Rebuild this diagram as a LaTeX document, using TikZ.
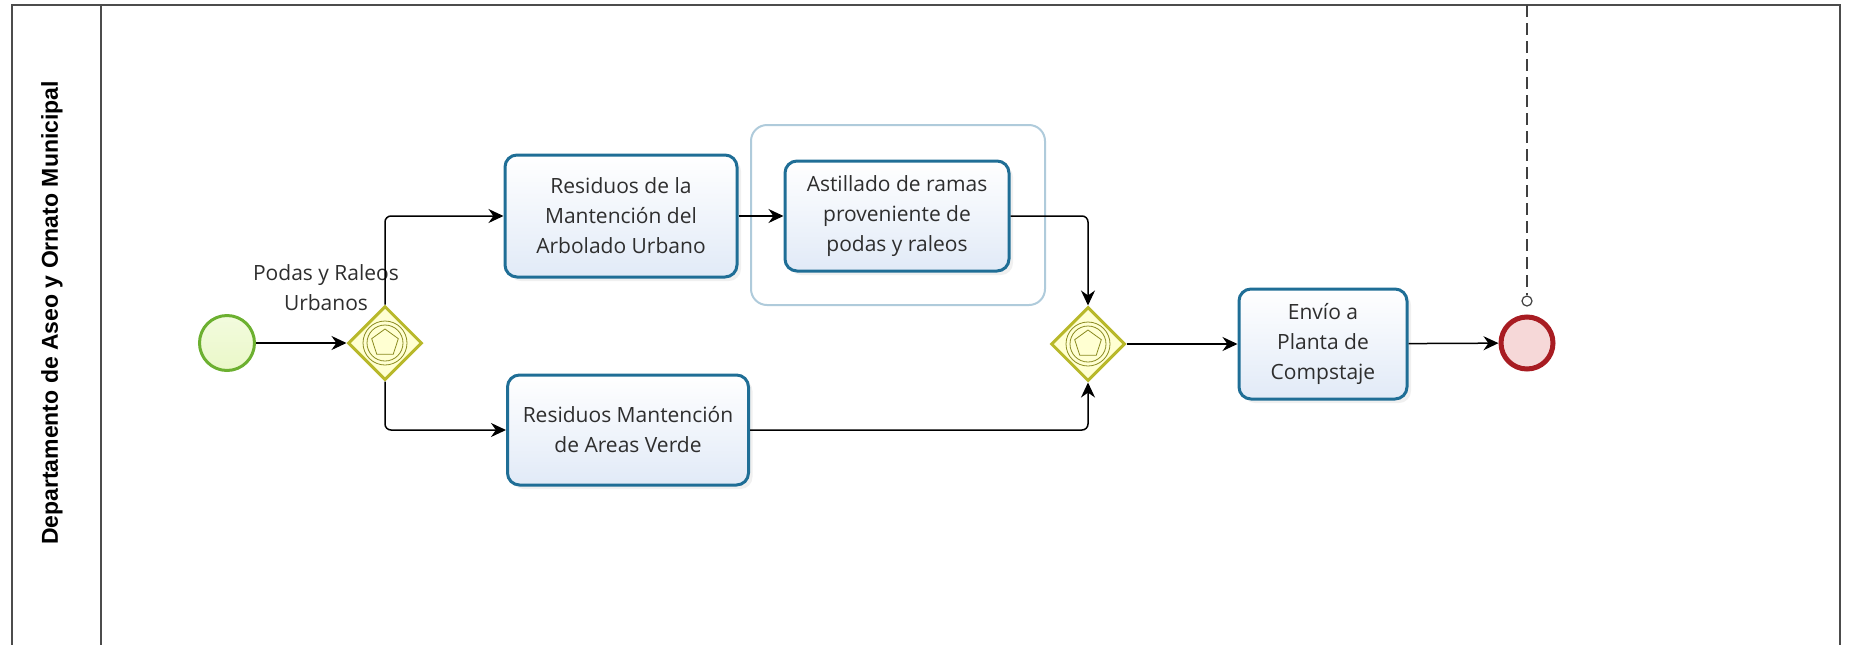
\documentclass[tikz,border=0pt]{standalone}
\usepackage{fontspec}
\setmainfont{Open Sans}
\newfontfamily\lanefont{Liberation Sans}
\usetikzlibrary{shapes.geometric,arrows.meta,shadows}
\definecolor{taskline}{HTML}{1F6E96}
\definecolor{taskfill}{HTML}{E1EAF7}
\definecolor{gateline}{HTML}{B8B82A}
\definecolor{gatefill}{HTML}{FFFFD2}
\definecolor{startline}{HTML}{6CB030}
\definecolor{startfill}{HTML}{EAF8C8}
\definecolor{endline}{HTML}{A81C22}
\definecolor{endfill}{HTML}{F6D8D8}
\definecolor{groupline}{HTML}{AFCBDB}
\definecolor{txt}{HTML}{2E2E2E}
\tikzset{
  task/.style={draw=taskline, line width=1.5pt, rounded corners=6pt, top color=white, bottom color=taskfill,
    align=center, text=txt, font=\fontsize{10.5}{15}\selectfont, inner sep=0pt,
    drop shadow={opacity=0.12, shadow xshift=2pt, shadow yshift=-2pt}},
  gate/.style={diamond, aspect=1, draw=gateline, fill=gatefill, line width=1.5pt, minimum size=37pt, inner sep=0pt},
  flow/.style={-{Stealth[length=7.5pt,width=7pt]}, line width=0.75pt, rounded corners=3pt},
}
\begin{document}
\begin{tikzpicture}[x=0.5pt, y=-0.5pt]
    \useasboundingbox (0,0) rectangle (1849,644);
    \draw [draw=black!70, line width=0.8pt] (12,5) rectangle (1840,660);
    \draw [draw=black!70, line width=0.8pt] (101,5) -- (101,660);
    \node [rotate=90, font=\lanefont\bfseries\fontsize{11.5}{13}\selectfont] (lane) at (52,313) {Departamento de Aseo y Ornato Municipal};
    % grupo
    \node [draw=groupline, line width=1pt, rounded corners=8pt, minimum width=147pt, minimum height=90pt] (grp) at (898,215) {};
    \node [circle, draw=startline, top color=startfill!60, bottom color=startfill, line width=1.5pt, minimum size=27.5pt, inner sep=0pt] (start) at (227,343) {};
    \node [gate] (g1) at (385,343) {};
    \node [task, minimum width=116pt, minimum height=61pt] (t1) at (621,216) {Residuos de la\\Mantención del\\Arbolado Urbano};
    \node [task, minimum width=112pt, minimum height=55pt] (t2) at (897,216) {Astillado de ramas\\proveniente de\\podas y raleos};
    \node [task, minimum width=120.5pt, minimum height=55pt] (t3) at (628,430) {Residuos Mantención\\de Areas Verde};
    \node [gate] (g2) at (1088,344) {};
    \node [task, minimum width=84pt, minimum height=55pt] (t4) at (1323,344) {Envío a\\Planta de\\Compstaje};
    \node [circle, draw=endline, fill=endfill, line width=2.5pt, minimum size=26pt, inner sep=0pt] (end) at (1527,343) {};
    \node [circle, draw=black!75, fill=white, line width=0.6pt, minimum size=5pt, inner sep=0pt] (msg) at (1527,301) {};
    \coordinate (top) at (1527,5);
    \node [text=txt, align=center, font=\fontsize{10.5}{15}\selectfont] (lbl) at (326,288) {Podas y Raleos\\Urbanos};
    \foreach \g in {g1,g2} {
        \draw [gateline!75!black, line width=0.4pt] (\g) circle [radius=11pt] (\g) circle [radius=9pt];
        \node [regular polygon, regular polygon sides=5, draw=gateline!75!black, line width=0.4pt, minimum size=14pt, inner sep=0pt] (\g p) at (\g) {};
    }
    \draw [flow] (start) -- (g1);
    \draw [flow] (g1.north) |- (t1.west);
    \draw [flow] (g1.south) |- (t3.west);
    \draw [flow] (t1) -- (t2);
    \draw [flow] (t2.east) -| (g2.north);
    \draw [flow] (t3.east) -| (g2.south);
    \draw [flow] (g2) -- (t4);
    \draw [flow] (t4) -- (end);
    \draw [dash pattern=on 6pt off 3pt, black!75, line width=0.6pt] (top) -- (msg);
\end{tikzpicture}
\end{document}
